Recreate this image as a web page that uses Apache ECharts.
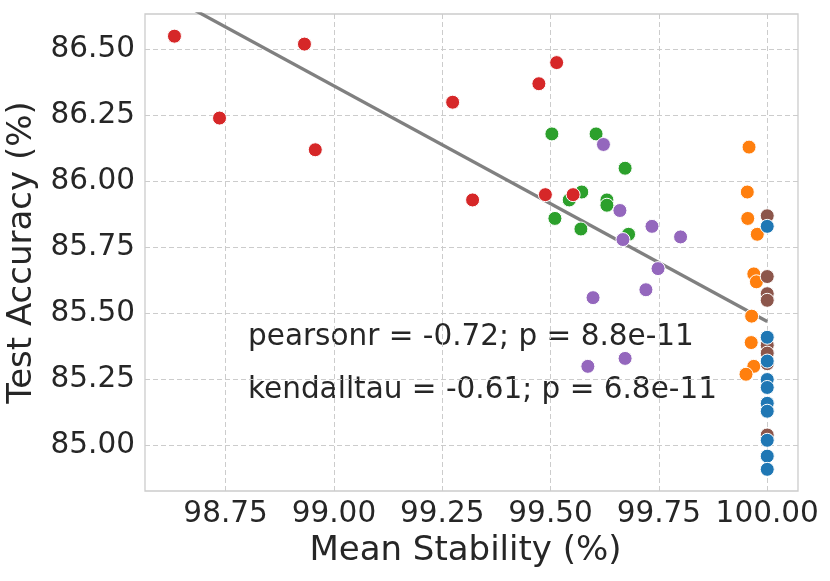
<!DOCTYPE html>
<html>
<head>
<meta charset="utf-8">
<script src="https://cdn.jsdelivr.net/npm/echarts@6/dist/echarts.min.js"></script>
<style>
  html, body { margin: 0; padding: 0; background: #fff; }
  #chart { width: 830px; height: 581px; }
</style>
</head>
<body>
<div id="chart"></div>
<script>
var xTicks = [98.75, 99.00, 99.25, 99.50, 99.75, 100.00];
var yTicks = [85.00, 85.25, 85.50, 85.75, 86.00, 86.25, 86.50];

// points per group: mean stability (x) and test accuracy (y)
var redX = [98.632, 98.736, 98.932, 98.957, 99.274, 99.320, 99.488, 99.552, 99.514, 99.473];
var redY = [86.55, 86.24, 86.52, 86.12, 86.30, 85.93, 85.95, 85.95, 86.45, 86.37];
var greenX = [99.503, 99.605, 99.672, 99.572, 99.543, 99.630, 99.630, 99.510, 99.570, 99.680];
var greenY = [86.18, 86.18, 86.05, 85.96, 85.93, 85.93, 85.91, 85.86, 85.82, 85.80];
var purpleX = [99.622, 99.660, 99.734, 99.800, 99.667, 99.748, 99.720, 99.598, 99.672, 99.586];
var purpleY = [86.14, 85.89, 85.83, 85.79, 85.78, 85.67, 85.59, 85.56, 85.33, 85.30];
var orangeX = [99.958, 99.954, 99.955, 99.977, 99.969, 99.975, 99.964, 99.963, 99.969, 99.951];
var orangeY = [86.13, 85.96, 85.86, 85.80, 85.65, 85.62, 85.49, 85.39, 85.30, 85.27];
var brownX = [100, 100, 100, 100, 100, 100, 100, 100];
var brownY = [85.87, 85.64, 85.575, 85.55, 85.38, 85.35, 85.31, 85.04];
var blueX = [100, 100, 100, 100, 100, 100, 100, 100, 100, 100];
var blueY = [85.83, 85.41, 85.32, 85.25, 85.22, 85.16, 85.13, 85.02, 84.96, 84.91];

// fitted regression line end points
var fitX = [98.632, 100.0];
var fitY = [86.69, 85.47];

var statLines = [
  'pearsonr = -0.72; p = 8.8e-11',
  'kendalltau = -0.61; p = 6.8e-11'
];

function pairs(xs, ys) {
  return xs.map(function (x, i) { return [x, ys[i]]; });
}

var font = 'DejaVu Sans';
var textColor = '#262626';
var gridColor = '#cccccc';

function dots(name, color, xs, ys) {
  return {
    name: name,
    type: 'scatter',
    symbolSize: 14,
    itemStyle: { color: color, borderColor: '#fff', borderWidth: 1, opacity: 1 },
    data: pairs(xs, ys),
    z: 3
  };
}

var myChart = echarts.init(document.getElementById('chart'));

var option = {
  animation: false,
  backgroundColor: '#fff',
  grid: {
    left: 145, right: 32, top: 14, bottom: 90,
    outerBoundsMode: 'none', containLabel: false,
    show: true, borderColor: gridColor, borderWidth: 1.3
  },
  xAxis: {
    type: 'value',
    min: 98.564,
    max: 100.071,
    name: 'Mean Stability (%)',
    nameLocation: 'middle',
    nameGap: 40,
    nameTextStyle: { fontFamily: font, fontSize: 34, color: textColor, padding: [0, 12, 0, 0] },
    axisLine: { show: false },
    axisTick: { show: false, customValues: xTicks },
    axisLabel: {
      customValues: xTicks,
      fontFamily: font, fontSize: 29.5, color: textColor, margin: 8,
      formatter: function (v) { return v.toFixed(2); }
    },
    splitLine: { show: true, lineStyle: { color: gridColor, type: [5, 3], width: 1 } }
  },
  yAxis: {
    type: 'value',
    min: 84.828,
    max: 86.634,
    name: 'Test Accuracy (%)',
    nameLocation: 'middle',
    nameGap: 92,
    nameTextStyle: { fontFamily: font, fontSize: 34, color: textColor },
    axisLine: { show: false },
    axisTick: { show: false, customValues: yTicks },
    axisLabel: {
      customValues: yTicks,
      fontFamily: font, fontSize: 29.5, color: textColor, margin: 10,
      formatter: function (v) { return v.toFixed(2); }
    },
    splitLine: { show: true, lineStyle: { color: gridColor, type: [5, 3], width: 1 } }
  },
  graphic: [
    { type: 'text', left: 248, top: 322, style: { text: statLines[0], font: '29.5px "DejaVu Sans"', fill: textColor } },
    { type: 'text', left: 248, top: 375, style: { text: statLines[1], font: '29.5px "DejaVu Sans"', fill: textColor } }
  ],
  series: [
    {
      name: 'fit',
      type: 'line',
      data: pairs(fitX, fitY),
      symbol: 'none',
      lineStyle: { color: '#808080', width: 3.3 },
      z: 2
    },
    dots('green', '#2ca02c', greenX, greenY),
    dots('purple', '#9467bd', purpleX, purpleY),
    dots('red', '#d62728', redX, redY),
    dots('orange', '#ff7f0e', orangeX, orangeY),
    dots('brown', '#8c564b', brownX, brownY),
    dots('blue', '#1f77b4', blueX, blueY)
  ]
};

myChart.setOption(option);
</script>
</body>
</html>
